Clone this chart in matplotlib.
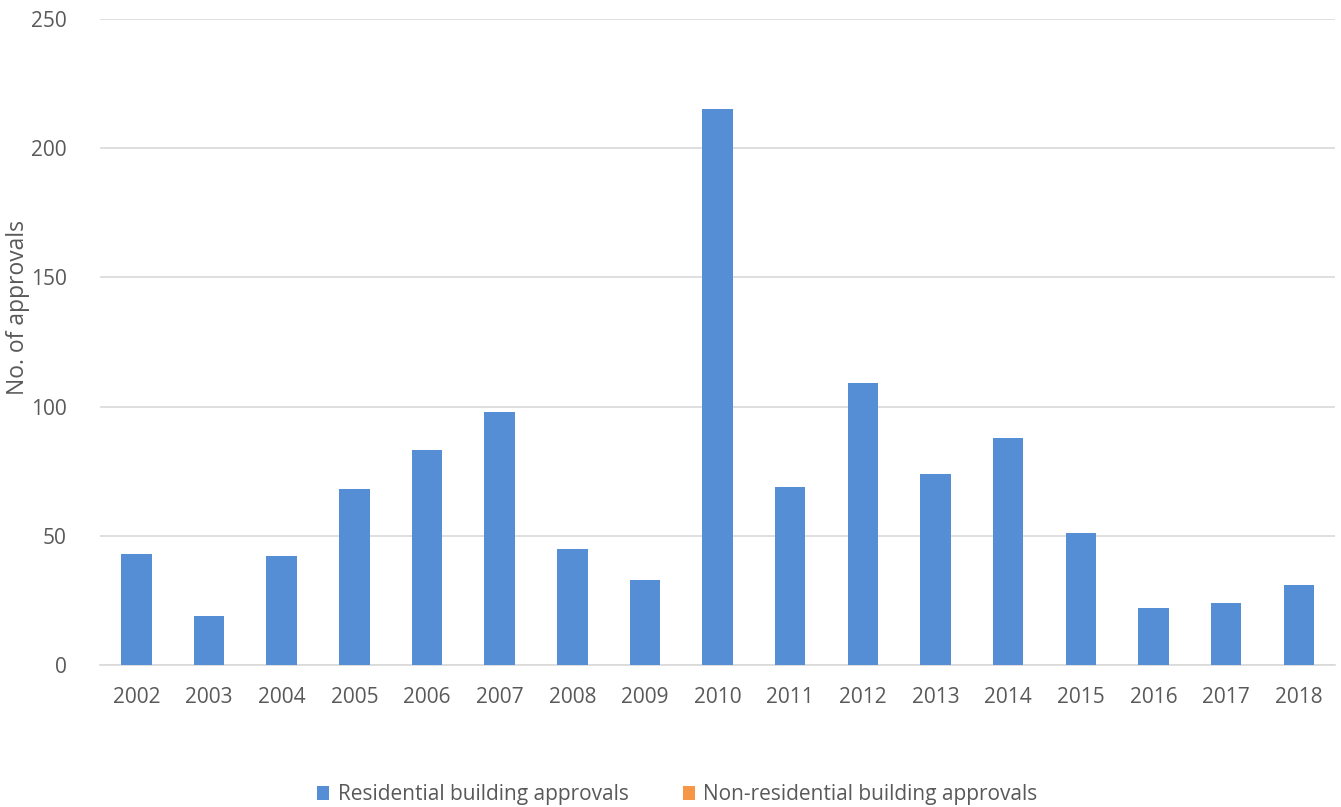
import matplotlib
matplotlib.use("Agg")
import matplotlib.pyplot as plt
import numpy as np

years = [str(y) for y in range(2002, 2019)]
residential = [43, 19, 42, 68, 83, 98, 45, 33, 215, 69, 109, 74, 88, 51, 22, 24, 31]
non_residential = [0] * len(years)

plt.rcParams['font.family'] = ['Open Sans', 'DejaVu Sans']
text_col = '#595959'

fig = plt.figure(figsize=(13.41, 8.07), dpi=100)
ax = fig.add_axes([0.0746, 0.176, 0.921, 0.8005])

x = np.arange(len(years))
ax.bar(x, residential, width=0.42, color='#558ED5', label='Residential building approvals', zorder=3)
ax.bar(x, non_residential, width=0.42, bottom=residential, color='#F79646',
       label='Non-residential building approvals', zorder=3)

ax.set_xlim(-0.5, len(years) - 0.5)
ax.set_ylim(0, 250)
ax.set_yticks(range(0, 251, 50))
ax.set_xticks(x)
ax.set_xticklabels(years)
ax.tick_params(axis='both', length=0, labelsize=15, colors=text_col)
ax.tick_params(axis='x', pad=16)
ax.tick_params(axis='y', pad=24)
ax.grid(axis='y', color='#D9D9D9', linewidth=1.2, zorder=0)
for s in ['top', 'right', 'left']:
    ax.spines[s].set_visible(False)
ax.spines['bottom'].set_color('#D9D9D9')
ax.spines['bottom'].set_linewidth(1.2)

ax.set_ylabel('No. of approvals', fontsize=16.5, color=text_col)
ax.yaxis.set_label_coords(-0.0565, 0.553)

fig.legend(*ax.get_legend_handles_labels(), loc='center', bbox_to_anchor=(0.505, 0.015),
           ncol=2, frameon=False, fontsize=15, labelcolor=text_col,
           handlelength=0.6, handleheight=0.6, handletextpad=0.4, columnspacing=2.6)

fig.savefig('out.png', dpi=100)
